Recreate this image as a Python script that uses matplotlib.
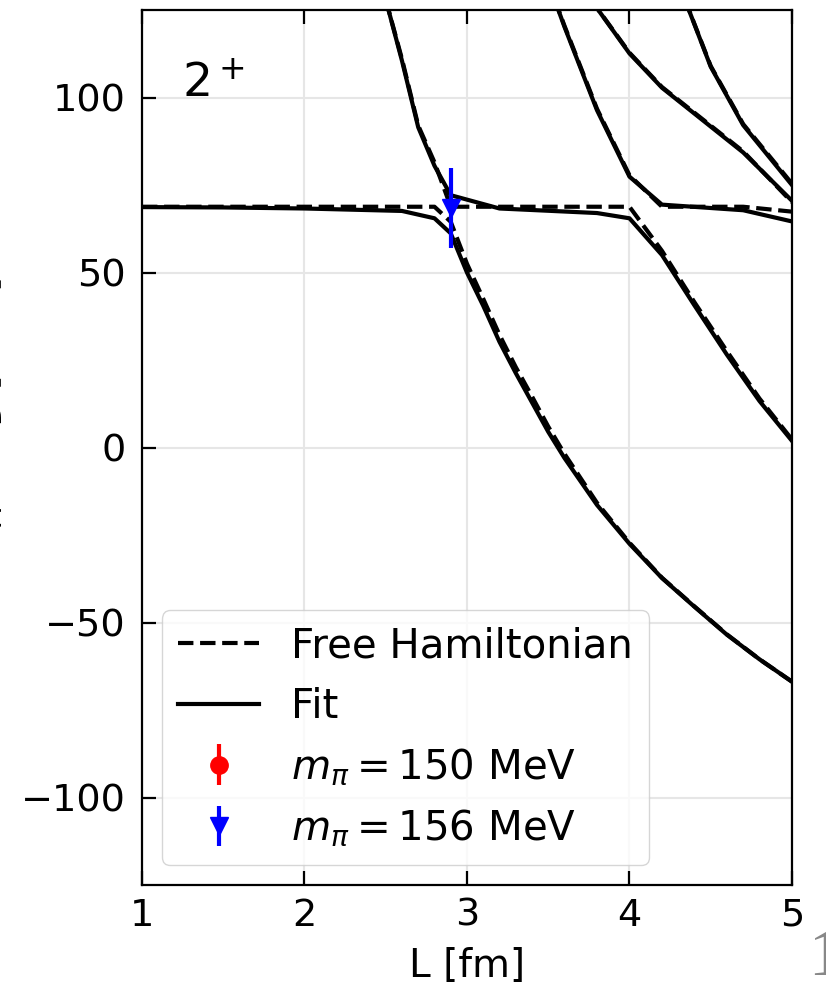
import matplotlib
matplotlib.use('Agg')
import matplotlib.pyplot as plt

# Níveis de energia do Hamiltoniano livre (tracejado), por ordem de energia
L_livre1 = [1.0, 2.8, 2.9, 3.0, 3.1, 3.2, 3.3, 3.4, 3.5, 3.6, 3.8, 4.0, 4.2, 4.4, 4.6, 4.8, 5.0]
E_livre1 = [68.8, 68.8, 64.5, 52.5, 42.5, 32.2, 23.0, 14.6, 6.0, -1.8, -15.8, -27.2, -37.2, -45.4, -53.4, -60.5, -66.9]
L_livre2 = [2.5, 2.6, 2.7, 2.8, 2.9, 4.0, 4.2, 4.4, 4.6, 4.8, 5.0]
E_livre2 = [128.0, 111.0, 92.0, 81.5, 68.8, 68.8, 56.2, 41.5, 27.5, 14.0, 2.3]
L_livre3 = [3.5, 3.6, 3.8, 4.0, 4.2, 4.7, 5.0]
E_livre3 = [133.0, 120.5, 96.8, 77.8, 68.8, 68.8, 67.4]
L_livre4 = [3.7, 4.0, 4.2, 4.7, 5.0]
E_livre4 = [132.0, 112.8, 103.0, 84.6, 70.1]
L_livre5 = [4.2, 4.5, 4.7, 5.0]
E_livre5 = [145.0, 109.0, 92.4, 75.4]

# Níveis do ajuste (linhas contínuas)
L_fit1 = [1.0, 1.5, 2.0, 2.6, 2.8, 2.9, 3.0, 3.1, 3.2, 3.3, 3.4, 3.5, 3.6, 3.8, 4.0, 4.2, 4.4, 4.6, 4.8, 5.0]
E_fit1 = [68.7, 68.6, 68.3, 67.6, 65.5, 61.2, 50.0, 40.5, 30.2, 21.3, 12.9, 4.5, -3.0, -16.4, -27.5, -37.3, -45.5, -53.5, -60.5, -66.9]
L_fit2 = [2.5, 2.6, 2.7, 2.8, 2.9, 3.2, 3.8, 4.0, 4.2, 4.4, 4.6, 4.8, 5.0]
E_fit2 = [128.0, 110.5, 91.5, 80.5, 72.1, 68.3, 67.0, 65.5, 55.0, 40.6, 26.5, 13.3, 1.9]
L_fit3 = [3.5, 3.6, 3.8, 4.0, 4.2, 4.7, 5.0]
E_fit3 = [133.0, 120.2, 96.4, 77.4, 69.4, 67.8, 64.6]
L_fit4 = [3.7, 4.0, 4.2, 4.7, 5.0]
E_fit4 = [132.0, 112.6, 102.8, 84.3, 70.5]
L_fit5 = [4.2, 4.5, 4.7, 5.0]
E_fit5 = [145.0, 108.8, 92.1, 75.0]

# Dados de rede
L_150, E_150, err_150 = [], [], []
L_156, E_156, err_156 = [2.9], [68.4], [11.5]

niveis_livres = [(L_livre1, E_livre1), (L_livre2, E_livre2), (L_livre3, E_livre3),
                 (L_livre4, E_livre4), (L_livre5, E_livre5)]
niveis_fit = [(L_fit1, E_fit1), (L_fit2, E_fit2), (L_fit3, E_fit3),
              (L_fit4, E_fit4), (L_fit5, E_fit5)]

fig = plt.figure(figsize=(8.26, 9.85), dpi=100)
ax = fig.add_axes([0.1719, 0.1015, 0.7869, 0.8883])

lw = 3.0
for i, (L, E) in enumerate(niveis_livres):
    ax.plot(L, E, '--', color='black', lw=lw, label='Free Hamiltonian' if i == 0 else None)
for i, (L, E) in enumerate(niveis_fit):
    ax.plot(L, E, '-', color='black', lw=lw, label='Fit' if i == 0 else None)

ax.errorbar(L_150, E_150, yerr=err_150, fmt='o', color='red', ms=12.5,
            elinewidth=3.0, capsize=0, label=r'$m_\pi = 150$ MeV', zorder=5)
ax.errorbar(L_156, E_156, yerr=err_156, fmt='v', color='blue', ms=12.5,
            elinewidth=3.0, capsize=0, label=r'$m_\pi = 156$ MeV', zorder=6)

ax.set_xlim(1, 5)
ax.set_ylim(-125, 125)
ax.set_xticks([1, 2, 3, 4, 5])
ax.set_yticks([-100, -50, 0, 50, 100])
ax.grid(True, color='0.9', lw=1.5)
ax.set_axisbelow(True)
for s in ax.spines.values():
    s.set_linewidth(1.6)
ax.tick_params(axis='both', direction='in', length=10, width=1.6, labelsize=27.5)
ax.tick_params(axis='x', top=True, pad=9)
ax.tick_params(axis='y', pad=12)

ax.set_xlabel('L [fm]', fontsize=28, labelpad=10)
ax.set_ylabel(r'$E - m_{\Lambda} - m_{D}$ [MeV]', fontsize=27.5)
ax.yaxis.set_label_coords(-0.211, 0.49)

ax.text(0.062, 0.90, r'$2^+$', transform=ax.transAxes, fontsize=34, ha='left', va='baseline')

ax.legend(loc='lower left', fontsize=29, framealpha=0.8)

# número da página, cortado na borda
fig.text(0.978, 0.010, '1', family='Liberation Serif', fontsize=48, color='#888888',
         ha='left', va='baseline')

fig.savefig('out.png', dpi=100)
